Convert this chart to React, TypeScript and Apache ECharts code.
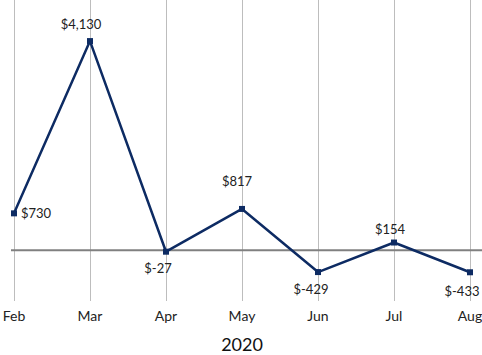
import React, { useEffect, useRef } from "react";
import * as echarts from "echarts";

const months = ["Feb", "Mar", "Apr", "May", "Jun", "Jul", "Aug"];
const profit = [730, 4130, -27, 817, -429, 154, -433];
const labelPositions = ["right", "top", "bottom", "top", "bottom", "top", "bottom"];
const labelOffsets = [[0, 0], [-9, -4], [-8, 3], [-5, -14], [-7, 3], [-4, 0], [-8, 5]];
const yearLabel = "2020";
const zeroLine = [[0, 0], [1, 0]];

const FONT = "Lato, 'Open Sans', sans-serif";

export default function App() {
  const ref = useRef<HTMLDivElement>(null);
  useEffect(() => {
    document.body.style.margin = "0";
    const chart = echarts.init(ref.current!, null, { renderer: "svg" });
    const fmt = (v: number) => "$" + v.toLocaleString("en-US");
    chart.setOption({
      animation: false,
      grid: [
        { left: 14, right: 12, top: -3, height: 304, containLabel: false, outerBoundsMode: "none" },
        { left: 11, right: 0, top: -3, height: 304, containLabel: false, outerBoundsMode: "none" },
      ],
      xAxis: [
        {
          type: "category",
          gridIndex: 0,
          data: months,
          boundaryGap: false,
          axisLine: { show: false },
          axisTick: { show: false },
          axisLabel: { color: "#222", fontSize: 14, fontFamily: FONT, margin: 7 },
          splitLine: { show: true, lineStyle: { color: "#bdbdbd", width: 1 } },
          name: yearLabel,
          nameLocation: "middle",
          nameGap: 34,
          nameTextStyle: { color: "#111", fontSize: 18, fontFamily: FONT },
        },
        { type: "value", gridIndex: 1, min: 0, max: 1, show: false },
      ],
      yAxis: [
        { type: "value", gridIndex: 0, min: -1000, max: 5000, show: false, splitLine: { show: false } },
        { type: "value", gridIndex: 1, min: -1000, max: 5000, show: false, splitLine: { show: false } },
      ],
      series: [
        {
          type: "line",
          xAxisIndex: 1,
          yAxisIndex: 1,
          data: zeroLine,
          symbol: "none",
          silent: true,
          z: 1,
          lineStyle: { color: "#808080", width: 2 },
        },
        {
          type: "line",
          xAxisIndex: 0,
          yAxisIndex: 0,
          z: 3,
          data: profit.map((v, i) => ({
            value: v,
            label: { position: labelPositions[i], offset: labelOffsets[i] },
          })),
          symbol: "rect",
          symbolSize: 6,
          itemStyle: { color: "#0d2b63" },
          lineStyle: { color: "#0d2b63", width: 2.5 },
          label: {
            show: true,
            formatter: (p: any) => fmt(p.value),
            color: "#222",
            fontSize: 13,
            fontFamily: FONT,
            distance: 4,
          },
        },
      ],
    });
    return () => chart.dispose();
  }, []);
  return <div ref={ref} style={{ width: 482, height: 355 }} />;
}
